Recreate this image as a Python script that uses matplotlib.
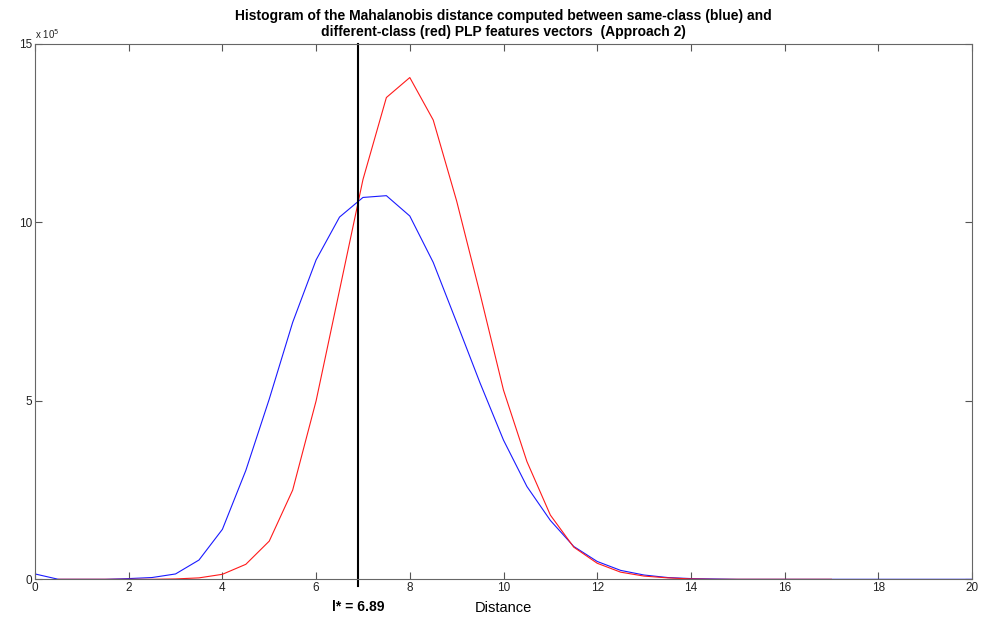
import numpy as np
import matplotlib
matplotlib.use("Agg")
import matplotlib.pyplot as plt
from matplotlib.ticker import FixedLocator

plt.rcParams['font.family'] = ['Liberation Sans', 'DejaVu Sans']

# Distance bin positions
blue_x = np.arange(0, 20.01, 0.5)
red_x = np.arange(0.5, 17.01, 0.5)

# Counts (x 1e5)
same_class = [0.15, 0.0, 0.0, 0.0, 0.02, 0.05, 0.15, 0.54, 1.40, 3.05,
              5.05, 7.2, 8.95, 10.15, 10.70, 10.75, 10.18, 8.88, 7.2, 5.5,
              3.9, 2.6, 1.65, 0.92, 0.5, 0.25, 0.12, 0.05, 0.02, 0.01,
              0, 0, 0, 0, 0, 0, 0, 0, 0, 0, 0]
diff_class = [0, 0, 0, 0, 0, 0.01, 0.04, 0.14, 0.42, 1.07,
              2.5, 5.0, 8.1, 11.2, 13.5, 14.06, 12.87, 10.6, 8.0, 5.3,
              3.3, 1.8, 0.9, 0.45, 0.2, 0.09, 0.04, 0.01,
              0, 0, 0, 0, 0, 0]
threshold = 6.89

xticks = [0, 2, 4, 6, 8, 10, 12, 14, 16, 18, 20]
yticks = [0, 5, 10, 15]

fig = plt.figure(figsize=(9.95, 6.19), dpi=100)
ax = fig.add_axes([35/995, 39.7/619, 937/995, 535.3/619])

ax.plot(blue_x, np.array(same_class) * 1e5, color='#1a1aff', lw=0.8)
ax.plot(red_x, np.array(diff_class) * 1e5, color='#ff1a1a', lw=0.8)
ax.axvline(threshold, ymin=-0.012, ymax=1, color='black', lw=1.5, clip_on=False)

ax.set_xlim(0, 20)
ax.set_ylim(0, 15e5)
ax.xaxis.set_major_locator(FixedLocator(xticks))
ax.yaxis.set_major_locator(FixedLocator([v * 1e5 for v in yticks]))
ax.set_xticklabels([str(v) for v in xticks])
ax.set_yticklabels([str(v) for v in yticks])
ax.tick_params(direction='in', top=True, right=True, length=5, width=0.8,
               color='#555555', labelsize=8.5, labelcolor='#222222', pad=2)
for s in ax.spines.values():
    s.set_color('#666666')
    s.set_linewidth(0.8)

ax.text(0.0, 1.005, r'x 10$^5$', transform=ax.transAxes, fontsize=7,
        ha='left', va='bottom', color='#222222')

ax.set_title('Histogram of the Mahalanobis distance computed between same-class (blue) and\n'
             'different-class (red) PLP features vectors  (Approach 2)',
             fontsize=10, fontweight='bold', pad=6, linespacing=1.15)
ax.set_xlabel('Distance', fontsize=10.5, labelpad=5)
ax.text(threshold, -0.038, 'l* = 6.89', transform=ax.get_xaxis_transform(),
        ha='center', va='top', fontsize=10, fontweight='bold')

fig.savefig('out.png', dpi=100)
